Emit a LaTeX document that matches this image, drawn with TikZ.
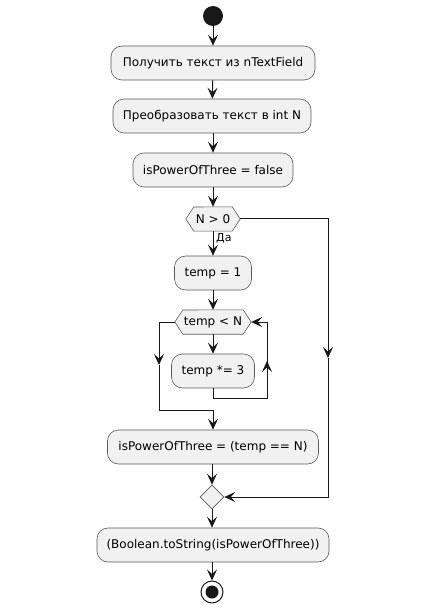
\documentclass[tikz,border=0pt]{standalone}
\usepackage{fontspec}
\setmainfont{DejaVu Sans}
\usetikzlibrary{arrows.meta,shapes.geometric}
\definecolor{boxfill}{HTML}{F1F1F1}
\definecolor{ln}{HTML}{181818}
\definecolor{bd}{HTML}{5A5A5A}
\tikzset{
  act/.style={draw=bd, fill=boxfill, rounded corners=11pt, minimum height=34pt,
    inner sep=0pt, line width=0.6pt, font=\fontsize{12}{14}\selectfont},
  hexd/.style={draw=bd, fill=boxfill, line width=0.6pt},
  dtxt/.style={font=\fontsize{12}{14}\selectfont, inner sep=0pt},
  flow/.style={draw=ln, line width=1pt, -{Stealth[length=11pt,width=10pt,inset=4.5pt]}},
  line/.style={draw=ln, line width=1pt},
  lbl/.style={font=\fontsize{11}{13}\selectfont, inner sep=0pt, anchor=west},
}
\begin{document}
\begin{tikzpicture}[x=1pt,y=-1pt]
\fill[white] (0,0) rectangle (425,609);
\useasboundingbox (0,0) rectangle (425,609);

% start
\node[circle, fill=ln, minimum size=20pt, inner sep=0pt] (start) at (213,16) {};
% actions
\node[act, minimum width=204pt] (a1) at (213,63) {Получить текст из nTextField};
\node[act, minimum width=198pt] (a2) at (212,116) {Преобразовать текст в int N};
\node[act, minimum width=160pt] (a3) at (213,170) {isPowerOfThree = false};
% decision N > 0
\node[minimum width=54pt, minimum height=24pt, inner sep=0pt] (d1) at (213,219) {};
\draw[hexd] (d1.west) -- ++(8,-12) -- ([xshift=-8pt]d1.north east) -- (d1.east) -- ([xshift=-8pt]d1.south east) -- ([xshift=8pt]d1.south west) -- cycle;
\node[dtxt] at (d1) {N > 0};
\node[act, minimum width=77pt] (a4) at (213,273) {temp = 1};
% decision temp < N
\node[minimum width=76pt, minimum height=24pt, inner sep=0pt] (d2) at (213,322) {};
\draw[hexd] (d2.west) -- ++(8,-12) -- ([xshift=-8pt]d2.north east) -- (d2.east) -- ([xshift=-8pt]d2.south east) -- ([xshift=8pt]d2.south west) -- cycle;
\node[dtxt] at (d2) {temp < N};
\node[act, minimum width=83pt] (a5) at (213,371) {temp *= 3};
\node[act, minimum width=211pt] (a6) at (213,447) {isPowerOfThree = (temp == N)};
% merge
\node[diamond, hexd, minimum width=24pt, minimum height=24pt, inner sep=0pt] (m) at (212,497) {};
\node[act, minimum width=232pt] (a7) at (213,545) {(Boolean.toString(isPowerOfThree))};
% end
\node[circle, draw=ln, line width=1pt, fill=white, minimum size=22pt, inner sep=0pt] (stop) at (212,592) {};
\node[circle, fill=ln, minimum size=13pt, inner sep=0pt] at (stop) {};

% connectors
\draw[flow] (start) -- (a1);
\draw[flow] (a1) -- (a2);
\draw[flow] (a2.south -| a1) -- (a1 |- a3.north);
\draw[flow] (a3) -- (d1);
\draw[flow] (d1) -- (a4);
\node[lbl] at (216,238) {Да};
\draw[flow] (a4) -- (d2);
\draw[flow] (d2) -- (a5);
% loop back
\coordinate (lb1) at (213,398);
\coordinate (lb2) at (267,398);
\coordinate (lb3) at (267,361);
\coordinate (lb4) at (267,322);
\draw[line] (a5.south) -- (lb1) -- (lb2) -- (lb3);
\draw[flow] (lb2) -- (lb3);
\draw[flow] (lb3) -- (lb4) -- (d2.east);
% loop exit
\coordinate (le1) at (159,322);
\coordinate (le2) at (159,365);
\coordinate (le3) at (159,410);
\coordinate (le4) at (213,410);
\draw[flow] (d2.west) -- (le1) -- (le2);
\draw[flow] (le2) -- (le3) -- (le4) -- (a6.north);
% else branch
\coordinate (r1) at (328,219);
\coordinate (r2) at (328,358);
\coordinate (r3) at (328,497);
\draw[flow] (d1.east) -- (r1) -- (r2);
\draw[flow] (r2) -- (r3) -- (m.east);
\draw[flow] (a6.south -| m) -- (m);
\draw[flow] (m) -- (a7.north -| m);
\draw[flow] (a7.south -| stop) -- (stop);
\end{tikzpicture}
\end{document}
